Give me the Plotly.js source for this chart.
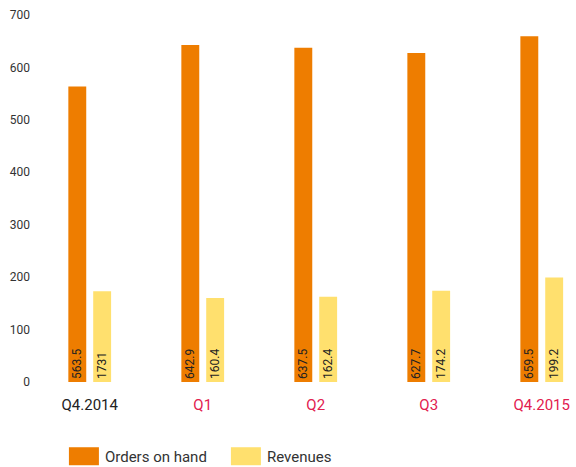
<!DOCTYPE html>
<html>
<head>
<meta charset="utf-8">
<script src="https://cdn.plot.ly/plotly-3.0.1.min.js"></script>
<style>
html,body{margin:0;padding:0;background:#fff;}
#chart{width:576px;height:467px;}
</style>
</head>
<body>
<div id="chart"></div>
<script>
const categories = ["Q4.2014", "Q1", "Q2", "Q3", "Q4.2015"];
const tickColors = ["#222222", "#e2204f", "#e2204f", "#e2204f", "#e2204f"];
const ordersOnHand = [563.5, 642.9, 637.5, 627.7, 659.5];
const revenues = [173.1, 160.4, 162.4, 174.2, 199.2];
const ordersLabels = ["563.5", "642.9", "637.5", "627.7", "659.5"];
const revenuesLabels = ["1731", "160.4", "162.4", "174.2", "199.2"];
const yTicks = [0, 100, 200, 300, 400, 500, 600, 700];

const tickText = categories.map((c, i) => '<span style="color:' + tickColors[i] + '">' + c + '</span>');

const font = "Roboto, 'DejaVu Sans', sans-serif";

const traces = [
  {
    type: "bar", name: "Orders on hand", x: categories, y: ordersOnHand,
    text: ordersLabels, textposition: "inside", insidetextanchor: "start", textangle: -90,
    constraintext: "none",
    textfont: {family: font, size: 12, color: "#222"},
    marker: {color: "#ee7d00"}, hoverinfo: "skip"
  },
  {
    type: "bar", name: "Revenues", x: categories, y: revenues,
    text: revenuesLabels, textposition: "inside", insidetextanchor: "start", textangle: -90,
    constraintext: "none",
    textfont: {family: font, size: 12, color: "#222"},
    marker: {color: "#ffe06e"}, hoverinfo: "skip"
  }
];

const layout = {
  width: 576, height: 467,
  margin: {l: 40, r: 6, t: 15, b: 85, autoexpand: false},
  paper_bgcolor: "#fff", plot_bgcolor: "#fff",
  font: {family: font, color: "#333", size: 12},
  barmode: "group", bargap: 0.56, bargroupgap: 0.28,
  xaxis: {
    type: "category", range: [-0.44, 4.25], automargin: false,
    tickmode: "array", tickvals: categories, ticktext: tickText,
    tickfont: {size: 15, family: font}, showgrid: false, showline: false, zeroline: false, ticks: "",
    ticklabelstandoff: 12
  },
  yaxis: {
    range: [0, 700], tickmode: "array", tickvals: yTicks, automargin: false,
    tickfont: {size: 12, family: font, color: "#333"},
    showgrid: false, zeroline: false, showline: false, ticks: "", ticklabelstandoff: 9
  },
  showlegend: true,
  legend: {
    orientation: "h", x: 0.047, xanchor: "left", y: -0.158, yanchor: "top",
    font: {size: 15, family: font, color: "#333"}, entrywidth: 117, entrywidthmode: "pixels",
    traceorder: "normal"
  }
};

function bigSwatches(gd) {
  gd.querySelectorAll(".legend .legendpoints path").forEach(function (p) {
    p.setAttribute("transform", "translate(19,0) scale(2.5,1.5)");
  });
}

Plotly.newPlot("chart", traces, layout, {displayModeBar: false, staticPlot: true}).then(function (gd) {
  bigSwatches(gd);
  gd.on("plotly_afterplot", function () { bigSwatches(gd); });
  setTimeout(function () { bigSwatches(gd); }, 50);
});
</script>
</body>
</html>
